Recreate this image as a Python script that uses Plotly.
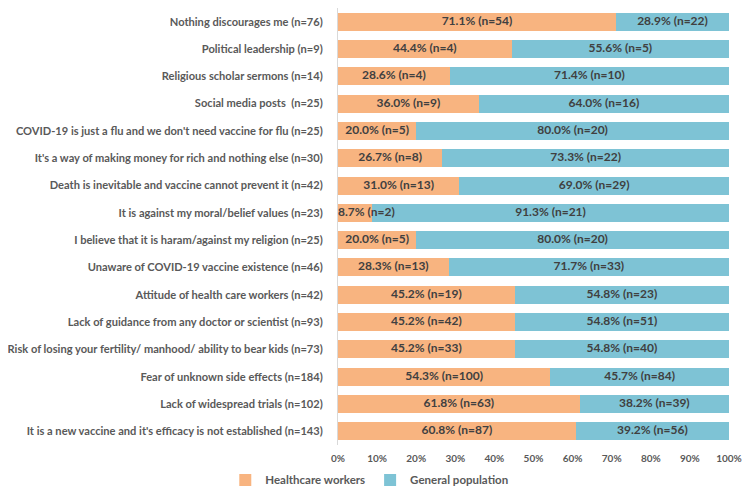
import plotly.graph_objects as go

categories = [
    "Nothing discourages me (n=76)",
    "Political leadership (n=9)",
    "Religious scholar sermons (n=14)",
    "Social media posts  (n=25)",
    "COVID-19 is just a flu and we don't need vaccine for flu (n=25)",
    "It's a way of making money for rich and nothing else (n=30)",
    "Death is inevitable and vaccine cannot prevent it (n=42)",
    "It is against my moral/belief values (n=23)",
    "I believe that it is haram/against my religion (n=25)",
    "Unaware of COVID-19 vaccine existence (n=46)",
    "Attitude of health care workers (n=42)",
    "Lack of guidance from any doctor or scientist (n=93)",
    "Risk of losing your fertility/ manhood/ ability to bear kids (n=73)",
    "Fear of unknown side effects (n=184)",
    "Lack of widespread trials (n=102)",
    "It is a new vaccine and it's efficacy is not established (n=143)",
]
hcw_pct = [71.1, 44.4, 28.6, 36.0, 20.0, 26.7, 31.0, 8.7, 20.0, 28.3, 45.2, 45.2, 45.2, 54.3, 61.8, 60.8]
hcw_n = [54, 4, 4, 9, 5, 8, 13, 2, 5, 13, 19, 42, 33, 100, 63, 87]
gp_pct = [28.9, 55.6, 71.4, 64.0, 80.0, 73.3, 69.0, 91.3, 80.0, 71.7, 54.8, 54.8, 54.8, 45.7, 38.2, 39.2]
gp_n = [22, 5, 10, 16, 20, 22, 29, 21, 20, 33, 23, 51, 40, 84, 39, 56]
x_ticks = [0, 10, 20, 30, 40, 50, 60, 70, 80, 90, 100]
x_tick_labels = ["0%", "10%", "20%", "30%", "40%", "50%", "60%", "70%", "80%", "90%", "100%"]

FONT = "Lato"
TXT = "#595959"
LBL = "#404040"
ORANGE = "#F8B480"
BLUE = "#7EC3D5"

hcw_text = [f"{p:.1f}% (n={n})" for p, n in zip(hcw_pct, hcw_n)]
gp_text = [f"{p:.1f}% (n={n})" for p, n in zip(gp_pct, gp_n)]

fig = go.Figure()
fig.add_trace(go.Bar(
    y=categories, x=hcw_pct, orientation="h", name="Healthcare workers",
    marker=dict(color=ORANGE, line=dict(width=0)), hoverinfo="skip",
))
fig.add_trace(go.Bar(
    y=categories, x=gp_pct, orientation="h", name="General population",
    marker=dict(color=BLUE, line=dict(width=0)), hoverinfo="skip",
))

# data labels centred on each segment (narrow segments: label starts at left edge)
hcw_x = [p / 2 if p >= 15 else 0 for p in hcw_pct]
hcw_pos = ["middle center" if p >= 15 else "middle right" for p in hcw_pct]
fig.add_trace(go.Scatter(
    y=categories, x=hcw_x, mode="text", text=hcw_text, textposition=hcw_pos,
    textfont=dict(family=FONT, size=12, color=LBL, weight="bold"),
    showlegend=False, hoverinfo="skip", cliponaxis=False,
))
fig.add_trace(go.Scatter(
    y=categories, x=[h + g / 2 for h, g in zip(hcw_pct, gp_pct)], mode="text",
    text=gp_text, textposition="middle center",
    textfont=dict(family=FONT, size=12, color=LBL, weight="bold"),
    showlegend=False, hoverinfo="skip", cliponaxis=False,
))

fig.update_layout(
    barmode="stack",
    bargap=0.34,
    width=742, height=479,
    margin=dict(l=330, r=21, t=0, b=42, autoexpand=False),
    plot_bgcolor="white", paper_bgcolor="white",
    font=dict(family=FONT, color=TXT),
    legend=dict(
        orientation="h", x=0.08, xanchor="center",
        y=-0.08, yanchor="middle",
        font=dict(family=FONT, size=11.5, color=TXT, weight="bold"),
        traceorder="normal",
    ),
)
fig.update_yaxes(
    range=[len(categories) - 0.5, -0.5], autorange=False,
    categoryorder="array", categoryarray=categories,
    showline=True, linecolor="#D9D9D9", linewidth=1,
    showgrid=False, ticks="", ticklabelstandoff=12,
    tickfont=dict(family=FONT, size=11.1, color=TXT, weight="bold"),
)
fig.update_xaxes(
    range=[0, 100], tickvals=x_ticks, ticktext=x_tick_labels,
    showgrid=False, showline=False, zeroline=False, ticks="",
    ticklabelstandoff=6,
    tickfont=dict(family=FONT, size=10, color=TXT, weight="bold"),
)

fig.write_html("out.html")
